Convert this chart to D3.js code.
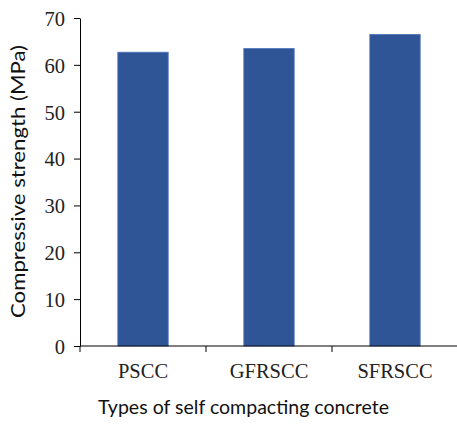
<!DOCTYPE html>
<html>
<head>
<meta charset="utf-8">
<script src="https://cdn.jsdelivr.net/npm/d3@7"></script>
<style>
  body { margin: 0; background: #fff; }
  .tick text { font-family: "Liberation Serif", "Times New Roman", serif; font-size: 20.5px; fill: #222; }
  .title { font-family: Lato, "Open Sans", sans-serif; font-size: 20px; fill: #111; }
</style>
</head>
<body>
<div id="chart"></div>
<script>
// chart data
const categories = ["PSCC", "GFRSCC", "SFRSCC"];
const strengths = [62.7, 63.5, 66.5];
const yTicks = [0, 10, 20, 30, 40, 50, 60, 70];

const width = 457, height = 425;
const margin = { left: 80, right: 458, top: 18, bottom: 346 };

let svg = d3.select("#chart").append("svg")
    .attr("width", width)
    .attr("height", height);

let x = d3.scaleBand()
    .domain(categories)
    .range([margin.left, margin.right])
    .paddingInner(0.6)
    .paddingOuter(0.3);

let y = d3.scaleLinear()
    .domain([0, 70])
    .range([margin.bottom, margin.top]);

// bars
svg.selectAll(".bar")
    .data(categories)
    .join("rect")
    .attr("class", "bar")
    .attr("x", d => x(d))
    .attr("y", (d, i) => y(strengths[i]))
    .attr("width", x.bandwidth())
    .attr("height", (d, i) => y(0) - y(strengths[i]))
    .attr("fill", "#2F5597")
    .attr("stroke", "#5078BE")
    .attr("stroke-width", 0.8);

// y axis
let yAxis = svg.append("g")
    .attr("transform", `translate(${margin.left},0)`)
    .call(d3.axisLeft(y).tickValues(yTicks).tickSize(6).tickPadding(9).tickSizeOuter(0));
yAxis.select(".domain").attr("stroke", "#000");
yAxis.selectAll(".tick line").attr("stroke", "#000");
yAxis.selectAll(".tick text").attr("dy", "0.36em");

// x axis, ticks sit at band boundaries
let xAxis = svg.append("g")
    .attr("transform", `translate(0,${margin.bottom})`);
xAxis.append("line")
    .attr("x1", margin.left).attr("x2", margin.right)
    .attr("stroke", "#000");
xAxis.selectAll(".xtick")
    .data([0, 1, 2].map(i => margin.left + i * x.step()))
    .join("line")
    .attr("x1", d => d).attr("x2", d => d)
    .attr("y1", 0).attr("y2", 6)
    .attr("stroke", "#000");
xAxis.selectAll(".tick")
    .data(categories)
    .join("g")
    .attr("class", "tick")
    .attr("transform", d => `translate(${x(d) + x.bandwidth() / 2},0)`)
    .append("text")
    .attr("y", 32)
    .attr("text-anchor", "middle")
    .text(d => d);

// axis titles
svg.append("text")
    .attr("class", "title")
    .attr("x", 243.5)
    .attr("y", 414)
    .attr("text-anchor", "middle")
    .attr("textLength", 291)
    .attr("lengthAdjust", "spacingAndGlyphs")
    .text("Types of self compacting concrete");

svg.append("text")
    .attr("class", "title")
    .attr("transform", "translate(25,181.5) rotate(-90)")
    .attr("text-anchor", "middle")
    .attr("textLength", 273)
    .attr("lengthAdjust", "spacingAndGlyphs")
    .text("Compressive strength (MPa)");
</script>
</body>
</html>
